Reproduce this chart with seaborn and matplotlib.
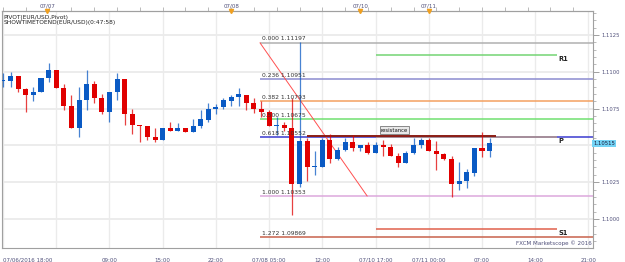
import matplotlib
matplotlib.use("Agg")
import matplotlib.pyplot as plt
import matplotlib.transforms as mtransforms
import numpy as np
import pandas as pd
import seaborn as sns

# hourly EUR/USD candles
opens = [1.10938, 1.1094, 1.1097, 1.1088, 1.1084, 1.1086, 1.1096, 1.1101, 1.1089, 1.1077,
         1.1062, 1.1081, 1.1092, 1.1082, 1.1073, 1.1086, 1.1095, 1.1071, 1.1064, 1.1063,
         1.1056, 1.1054, 1.1062, 1.1060, 1.1062, 1.1059, 1.1063, 1.1067, 1.1075, 1.1076,
         1.1080, 1.1083, 1.1084, 1.1079, 1.1075, 1.1073, 1.1063, 1.1064, 1.1062, 1.1024,
         1.1053, 1.1035, 1.1035, 1.1054, 1.1041, 1.1047, 1.1052, 1.1048, 1.1050, 1.1045,
         1.1050, 1.1049, 1.1043, 1.1038, 1.1045, 1.1050, 1.1054, 1.1046, 1.1044, 1.1041,
         1.1024, 1.1026, 1.1031, 1.1048, 1.1046]
highs = [1.1099, 1.1100, 1.1097, 1.1089, 1.1090, 1.1096, 1.1106, 1.1101, 1.1092, 1.1084,
         1.1090, 1.1101, 1.1094, 1.1085, 1.1086, 1.1099, 1.1095, 1.1075, 1.1064, 1.1063,
         1.1062, 1.1062, 1.1066, 1.1065, 1.1062, 1.1068, 1.1074, 1.1079, 1.1078, 1.1082,
         1.1084, 1.1089, 1.1084, 1.1082, 1.1080, 1.1074, 1.1069, 1.1066, 1.1082, 1.1120,
         1.1055, 1.1046, 1.1055, 1.1058, 1.1049, 1.1055, 1.1057, 1.1050, 1.1052, 1.1052,
         1.1054, 1.1051, 1.1045, 1.1046, 1.1055, 1.1055, 1.1055, 1.1053, 1.1045, 1.1043,
         1.1039, 1.1034, 1.1048, 1.1059, 1.1055]
lows = [1.1090, 1.1090, 1.1086, 1.1073, 1.1080, 1.1086, 1.1093, 1.1089, 1.1074, 1.1062,
        1.1056, 1.1074, 1.1079, 1.1071, 1.1066, 1.1081, 1.1064, 1.1058, 1.1052, 1.1054,
        1.1052, 1.1054, 1.1060, 1.1060, 1.1059, 1.1059, 1.1062, 1.1066, 1.1071, 1.1075,
        1.1077, 1.1077, 1.1074, 1.1072, 1.1069, 1.1063, 1.1057, 1.1060, 1.1003, 1.1022,
        1.1026, 1.1030, 1.1035, 1.1038, 1.1040, 1.1046, 1.1046, 1.1046, 1.1044, 1.1045,
        1.1043, 1.1043, 1.1035, 1.1038, 1.1044, 1.1048, 1.1046, 1.1033, 1.1040, 1.1015,
        1.1020, 1.1021, 1.1029, 1.1042, 1.1042]
closes = [1.10941, 1.1097, 1.1088, 1.1084, 1.1086, 1.1096, 1.1101, 1.1089, 1.1077, 1.1062,
          1.1081, 1.1092, 1.1082, 1.1073, 1.1086, 1.1095, 1.1071, 1.1064, 1.1063, 1.1056,
          1.1054, 1.1062, 1.1060, 1.1062, 1.1059, 1.1063, 1.1068, 1.1075, 1.1076, 1.1081,
          1.1083, 1.1085, 1.1079, 1.1075, 1.1073, 1.1063, 1.1064, 1.1062, 1.1024, 1.1053,
          1.1035, 1.1036, 1.1054, 1.1041, 1.1047, 1.1052, 1.1048, 1.1050, 1.1045, 1.1050,
          1.1049, 1.1043, 1.1038, 1.1045, 1.1050, 1.1054, 1.1046, 1.1044, 1.1041, 1.1024,
          1.1026, 1.1032, 1.1048, 1.1046, 1.10515]

bottom_ticks = [0, 7, 14, 21, 28, 35, 42, 49, 56, 63, 70, 77]
bottom_labels = ["07/06/2016 18:00", "", "09:00", "15:00", "22:00", "07/08 05:00",
                 "12:00", "07/10 17:00", "07/11 00:00", "07:00", "14:00", "21:00"]
day_pos = [5.8, 30, 47, 56]
day_labels = ["07/07", "07/08", "07/10", "07/11"]

price_ticks = [1.1000, 1.1025, 1.1075, 1.1100, 1.1125]
last_price = 1.10515

# fibonacci retracement drawn from the spike
fib_ratios = ["0.000", "0.236", "0.382", "0.500", "0.618", "1.000", "1.272"]
fib_prices = [1.11197, 1.10951, 1.10800, 1.10679, 1.10557, 1.10156, 1.09878]
fib_texts = ["1.11197", "1.10951", "1.10793", "1.10675", "1.10552", "1.10353", "1.09869"]
fib_colors = ["#b0b0b0", "#8c8cd0", "#f4a060", "#70e070", "#3a3ad0", "#dca8dc", "#c8624c"]
fib_start = 33.8
trend_x = [33.8, 47.9]
trend_y = [1.11197, 1.10156]

pivot_names = ["R1", "P", "S1"]
pivot_prices = [1.11114, 1.10558, 1.09932]
pivot_colors = ["#74d474", "#b89a88", "#e0604c"]
pivot_span = [49, 72.9]
resist_price = 1.10566
resist_span = [40, 64.9]

df = pd.DataFrame({"open": opens, "high": highs, "low": lows, "close": closes})
df["i"] = np.arange(len(df))
df["up"] = df["close"] >= df["open"]

sns.set_style("white")
plt.rcParams["font.family"] = ["DejaVu Sans"]

fig = plt.figure(figsize=(6.25, 2.62), dpi=100)
ax = fig.add_axes([2 / 625, 14 / 262, 591 / 625, 237 / 262])
ax.set_xlim(-0.13, 77.6)
ax.set_ylim(1.09803, 1.11413)

# grid
for t in bottom_ticks:
    ax.axvline(t, color="#ebebeb", lw=1.0, zorder=0)
for p in [1.1000, 1.1025, 1.1050, 1.1075, 1.1100, 1.1125]:
    ax.axhline(p, color="#ebebeb", lw=1.3, zorder=0)

# fib lines
for r, p, t, c in zip(fib_ratios, fib_prices, fib_texts, fib_colors):
    ax.hlines(p, fib_start, 77.6, color=c, lw=1.1, zorder=1)
    ax.text(fib_start + 0.3, p + 0.00009, f"{r} {t}", fontsize=4.3, color="#333333",
            va="bottom", ha="left", zorder=5)
ax.plot(trend_x, trend_y, color="#ff5050", lw=0.7, zorder=2)

# pivots
for n, p, c in zip(pivot_names, pivot_prices, pivot_colors):
    ax.hlines(p, pivot_span[0], pivot_span[1], color=c, lw=1.1, zorder=1)
    ax.text(pivot_span[1] + 0.1, p - 0.0001, n, fontsize=4.8, color="#222222",
            va="top", ha="left", fontweight="bold")
ax.hlines(resist_price, resist_span[0], resist_span[1], color="#8b1c14", lw=1.4, zorder=2)
ax.text(51.5, resist_price + 0.00038, "resistance", fontsize=3.8, color="#111111",
        ha="center", va="center",
        bbox=dict(boxstyle="square,pad=0.25", fc="#e8e8e8", ec="#777777", lw=0.6))

# candles
up_c, dn_c = "#0a5ac4", "#e00000"
colors = np.where(df["up"], up_c, dn_c)
ax.vlines(df["i"], df["low"], df["high"], colors=colors, lw=0.9, alpha=0.75, zorder=3)
body_lo = np.minimum(df["open"], df["close"])
body_h = np.maximum((df["close"] - df["open"]).abs(), 0.00004)
ax.bar(df["i"], body_h, bottom=body_lo, width=0.66, color=colors, zorder=4, linewidth=0)

# spines / axes
for s in ax.spines.values():
    s.set_color("#a0a0a0")
    s.set_linewidth(0.8)

ax.yaxis.tick_right()
ax.set_yticks(price_ticks)
ax.set_yticklabels([f"{p:.4f}" for p in price_ticks])
ax.set_yticks(np.arange(1.0985, 1.1140, 0.0005), minor=True)
ax.tick_params(axis="y", which="major", length=4, width=0.6, color="#909090",
               labelsize=3.8, labelcolor="#50507a", pad=2)
ax.tick_params(axis="y", which="minor", length=2, width=0.5, color="#a0a0a0")
ax.text(1.0, last_price, f"{last_price:.5f}",
        transform=mtransforms.blended_transform_factory(ax.transAxes, ax.transData),
        fontsize=3.8, color="#1a1a3a", va="center", ha="left",
        bbox=dict(boxstyle="square,pad=0.2", fc="#74d4f6", ec="none"))

ax.set_xticks(bottom_ticks)
ax.set_xticklabels(bottom_labels)
ax.set_xticks(np.arange(0, 78, 1), minor=True)
ax.tick_params(axis="x", which="major", length=5, width=0.6, color="#909090",
               labelsize=4, labelcolor="#50507a", pad=2)
ax.tick_params(axis="x", which="minor", length=2.5, width=0.5, color="#a8a8a8")
ax.get_xticklabels()[0].set_ha("left")

top = ax.secondary_xaxis("top")
top.set_xticks(np.arange(0, 78, 3))
top.set_xticklabels([])
top.tick_params(length=3, width=0.5, color="#a0a0a0")
top.spines["top"].set_color("#a0a0a0")
bt = mtransforms.blended_transform_factory(ax.transData, ax.transAxes)
ax.plot(day_pos, [1.0] * len(day_pos), "v", color="#f0a020", ms=3, transform=bt, clip_on=False, zorder=6)
for x, lab in zip(day_pos, day_labels):
    ax.text(x, 1.012, lab, transform=bt, fontsize=4, color="#50507a", ha="center", va="bottom")

ax.text(0.003, 0.985, "PIVOT(EUR/USD,Pivot)\nSHOWTIMETOEND(EUR/USD)(0:47:58)", transform=ax.transAxes,
        fontsize=4.2, color="#222222", va="top", ha="left", linespacing=1.1)
ax.text(0.998, 0.01, "FXCM Marketscope \u00a9 2016", transform=ax.transAxes,
        fontsize=4.1, color="#50507a", va="bottom", ha="right")

fig.savefig("out.png", dpi=100)
